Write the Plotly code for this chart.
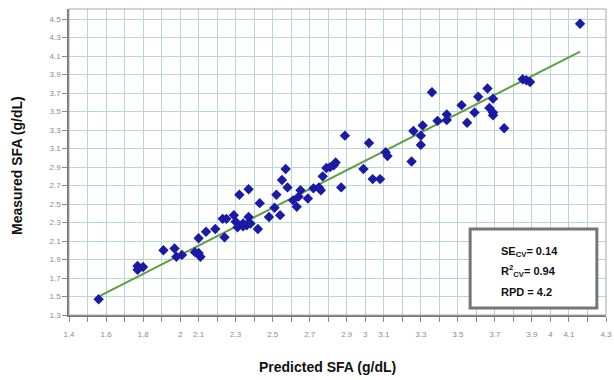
import plotly.graph_objects as go

# Predicted (x) vs measured (y) SFA, g/dL
predicted = [1.56, 1.77, 1.78, 1.80, 1.77, 1.91, 1.97, 1.98, 2.01, 2.08,
             2.10, 2.11, 2.10, 2.14, 2.19, 2.24, 2.23, 2.25, 2.29, 2.30,
             2.31, 2.34, 2.34, 2.36, 2.38, 2.37, 2.42, 2.32, 2.37, 2.43,
             2.48, 2.51, 2.54, 2.52, 2.55, 2.57, 2.58, 2.61, 2.63, 2.65,
             2.64, 2.69, 2.72, 2.75, 2.76, 2.77, 2.79, 2.81, 2.83, 2.84,
             2.87, 2.89, 2.99, 3.02, 3.04, 3.08, 3.11, 3.12, 3.25, 3.26,
             3.30, 3.30, 3.31, 3.36, 3.39, 3.44, 3.44, 3.52, 3.55, 3.59,
             3.61, 3.66, 3.69, 3.67, 3.69, 3.69, 3.75, 3.85, 3.87, 3.89,
             4.16]
measured = [1.47, 1.83, 1.81, 1.82, 1.79, 2.00, 2.02, 1.93, 1.95, 1.98,
            1.97, 1.93, 2.13, 2.20, 2.23, 2.14, 2.34, 2.34, 2.38, 2.31,
            2.25, 2.29, 2.26, 2.27, 2.29, 2.36, 2.23, 2.60, 2.66, 2.51,
            2.36, 2.46, 2.38, 2.60, 2.76, 2.88, 2.68, 2.54, 2.47, 2.65,
            2.58, 2.56, 2.67, 2.68, 2.65, 2.80, 2.89, 2.90, 2.92, 2.95,
            2.68, 3.24, 2.88, 3.16, 2.77, 2.77, 3.06, 3.02, 2.96, 3.29,
            3.24, 3.14, 3.35, 3.71, 3.40, 3.47, 3.41, 3.57, 3.38, 3.49,
            3.66, 3.75, 3.64, 3.54, 3.49, 3.46, 3.32, 3.85, 3.84, 3.82,
            4.45]

fit_x = [1.57, 4.16]
fit_y = [1.51, 4.15]

x_tick_vals = [1.4, 1.6, 1.8, 2.0, 2.1, 2.3, 2.5, 2.7, 2.9, 3.0,
               3.1, 3.3, 3.5, 3.7, 3.9, 4.0, 4.1, 4.3]
x_tick_text = ["1.4", "1.6", "1.8", "2", "2.1", "2.3", "2.5", "2.7", "2.9", "3",
               "3.1", "3.3", "3.5", "3.7", "3.9", "4", "4.1", "4.3"]
y_tick_vals = [1.3, 1.5, 1.7, 1.9, 2.1, 2.3, 2.5, 2.7, 2.9, 3.1, 3.3, 3.5,
               3.7, 3.9, 4.1, 4.3, 4.5]
y_tick_text = ["1.3", "1.5", "1.7", "1.9", "2.1", "2.3", "2.5", "2.7", "2.9",
               "3.1", "3.3", "3.5", "3.7", "3.9", "4.1", "4.3", "4.5"]

grid = "#b9d6d3"
tickfont = dict(family="Liberation Sans, Arial, sans-serif", size=8, color="#8c8c8c")

fig = go.Figure()
fig.add_trace(go.Scatter(x=fit_x, y=fit_y, mode="lines",
                         line=dict(color="#5e9e45", width=2), hoverinfo="skip"))
fig.add_trace(go.Scatter(x=predicted, y=measured, mode="markers",
                         marker=dict(symbol="diamond", size=8, color="#1a1aa6")))

fig.update_layout(
    width=614, height=380,
    margin=dict(l=69, r=8, t=9, b=65, autoexpand=False),
    paper_bgcolor="white", plot_bgcolor="white",
    showlegend=False,
    font=dict(family="Liberation Sans, Arial, sans-serif"),
    xaxis=dict(range=[1.4, 4.3], tickvals=x_tick_vals, ticktext=x_tick_text,
               showgrid=True, gridcolor=grid, gridwidth=1, zeroline=False,
               ticks="outside", ticklen=5, tickcolor="#8a8a8a",
               minor=dict(tick0=1.4, dtick=0.1, showgrid=True, gridcolor=grid,
                          gridwidth=1, ticks="outside", ticklen=5, tickcolor="#8a8a8a"),
               showline=True, linecolor="#777", linewidth=1.5,
               tickfont=tickfont, ticklabelstandoff=6, automargin=False),
    yaxis=dict(range=[1.3, 4.61], tickvals=y_tick_vals, ticktext=y_tick_text,
               showgrid=True, gridcolor=grid, gridwidth=1, zeroline=False,
               ticks="outside", ticklen=5, tickcolor="#8a8a8a",
               showline=True, linecolor="#777", linewidth=1.5,
               tickfont=tickfont, automargin=False),
    shapes=[
        dict(type="rect", xref="paper", yref="paper", x0=0, x1=1, y0=0, y1=1,
             line=dict(color="#a8a8a8", width=1), layer="above"),
        dict(type="rect", xref="paper", yref="paper", x0=0.747, x1=0.983,
             y0=0.023, y1=0.281, line=dict(color="#777", width=3),
             fillcolor="white", layer="above"),
    ],
    annotations=[
        dict(text="<b>SE<sub>CV</sub>= 0.14</b>", xref="paper", yref="paper",
             x=0.801, y=0.206, xanchor="left", yanchor="middle", showarrow=False,
             font=dict(size=11, color="#111")),
        dict(text="<b>R<sup>2</sup><sub>CV</sub>= 0.94</b>", xref="paper", yref="paper",
             x=0.801, y=0.144, xanchor="left", yanchor="middle", showarrow=False,
             font=dict(size=11, color="#111")),
        dict(text="<b>RPD = 4.2</b>", xref="paper", yref="paper",
             x=0.801, y=0.075, xanchor="left", yanchor="middle", showarrow=False,
             font=dict(size=11, color="#111")),
        dict(text="<b>Measured SFA (g/dL)</b>", xref="paper", yref="paper",
             x=-0.097, y=0.49, xanchor="center", yanchor="middle", textangle=-90,
             showarrow=False, font=dict(size=14, color="#111")),
        dict(text="<b>Predicted SFA (g/dL)</b>", xref="paper", yref="paper",
             x=0.482, y=-0.17, xanchor="center", yanchor="middle",
             showarrow=False, font=dict(size=14, color="#111")),
    ],
)

fig.write_html("out.html",
               config={"displayModeBar": False},
               post_script="document.body.style.margin='0';document.body.style.overflow='hidden';")
